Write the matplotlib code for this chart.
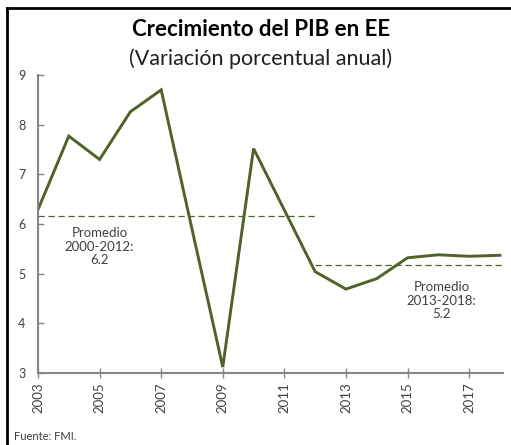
import matplotlib.pyplot as plt
from matplotlib.lines import Line2D

# data
years = list(range(2003, 2019))
gdp_growth = [6.29, 7.77, 7.30, 8.26, 8.70, 5.90, 3.12, 7.52, 6.28, 5.04,
              4.69, 4.90, 5.32, 5.38, 5.35, 5.37]
avg_2000_2012 = 6.17
avg_2013_2018 = 5.17
avg_labels = ["Promedio\n2000-2012:\n6.2", "Promedio\n2013-2018:\n5.2"]
xticks = list(range(2003, 2019, 2))
yticks = [3, 4, 5, 6, 7, 8, 9]

plt.rcParams['font.family'] = ['Lato', 'DejaVu Sans']

fig = plt.figure(figsize=(5.11, 4.45), dpi=100)
ax = fig.add_axes([38 / 511, 1 - 373 / 445, 465 / 511, 298 / 445])

green = '#4f6228'
ax.plot(years, gdp_growth, color=green, lw=2.1, solid_joinstyle='miter')
ax.plot([2003, 2012], [avg_2000_2012] * 2, color=green, lw=0.9, ls=(0, (5, 3)))
ax.plot([2012, 2018.1], [avg_2013_2018] * 2, color=green, lw=0.9, ls=(0, (5, 3)))

ax.text(2005.0, 5.54, avg_labels[0], ha='center', va='center', fontsize=9.5,
        color='#404040', linespacing=1.15)
ax.text(2016.1, 4.45, avg_labels[1], ha='center', va='center', fontsize=9.5,
        color='#404040', linespacing=1.15)

ax.set_xlim(2003, 2018.1)
ax.set_ylim(3, 9)
ax.set_xticks(xticks)
ax.set_xticklabels([str(y) for y in xticks], rotation=90, fontsize=9.5, color='#404040')
ax.set_yticks(yticks)
ax.set_yticklabels([str(v) for v in yticks], fontsize=9, color='#404040')

for side in ['top', 'right']:
    ax.spines[side].set_visible(False)
for side in ['left', 'bottom']:
    ax.spines[side].set_color('#868686')
    ax.spines[side].set_linewidth(1.5)
ax.tick_params(axis='x', direction='inout', length=7, width=1, color='#868686', pad=3)
ax.tick_params(axis='y', direction='in', length=4, width=1, color='#868686', pad=9)

fig.text(0.51, 1 - 36 / 445, 'Crecimiento del PIB en EE', ha='center', va='baseline',
         fontsize=16, fontweight='bold', color='black')
fig.text(0.51, 1 - 65 / 445, '(Variación porcentual anual)', ha='center', va='baseline',
         fontsize=15.5, color='#202020')
fig.text(14 / 511, 1 - 440 / 445, 'Fuente: FMI.', ha='left', va='baseline', fontsize=8,
         color='#404040')

# frame lines at top and left edge
fig.add_artist(Line2D([7 / 511, 1], [1 - 8 / 445] * 2, transform=fig.transFigure,
                      color='black', lw=2))
fig.add_artist(Line2D([7 / 511] * 2, [0, 1 - 8 / 445], transform=fig.transFigure,
                      color='black', lw=2))

fig.savefig('out.png', dpi=100)
